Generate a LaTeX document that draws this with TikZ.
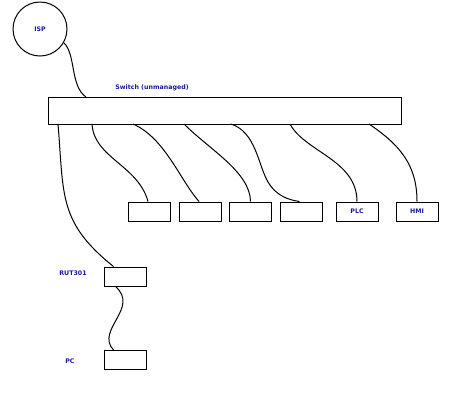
\documentclass[tikz,border=0pt]{standalone}
\usepackage{fontspec}
\setmainfont{DejaVu Sans}
\definecolor{lbl}{RGB}{25,25,160}
\begin{document}
\begin{tikzpicture}[x=1bp,y=-1bp,
  box/.style={draw,line width=1bp,minimum width=42bp,minimum height=19bp,inner sep=0pt,
    font=\fontsize{6.3}{7}\selectfont\bfseries,text=lbl},
  lab/.style={font=\fontsize{6.3}{7}\selectfont\bfseries,text=lbl,inner sep=0pt},
  cable/.style={line width=1bp}]
\useasboundingbox[fill=white] (0,0) rectangle (460,400);
\node[draw,circle,line width=1bp,minimum size=54bp,inner sep=0pt,lab] (isp) at (40,29) {ISP};
\node[draw,line width=1bp,minimum width=352bp,minimum height=27bp,inner sep=0pt] (sw) at (225,110.5) {};
\node[lab] (swl) at (152,88) {Switch (unmanaged)};
\node[box] (b1) at (149,211.5) {};
\node[box] (b2) at (200,211.5) {};
\node[box] (b3) at (250.5,211.5) {};
\node[box] (b4) at (301.5,211.5) {};
\node[box] (plc) at (357,211.5) {PLC};
\node[box] (hmi) at (417,211.5) {HMI};
\node[box] (rut) at (125.5,276.5) {};
\node[box] (pc) at (125.5,360) {};
\node[lab] (rutl) at (73,273) {RUT301};
\node[lab] (pcl) at (70,361) {PC};
% switch ports
\coordinate (tp) at (86,97);
\coordinate (p1) at (58,124);
\coordinate (p2) at (92,124);
\coordinate (p3) at (133,124);
\coordinate (p4) at (184,124);
\coordinate (p5) at (231,124);
\coordinate (p6) at (290,124);
\coordinate (p7) at (369,124);
\draw[cable] (isp.-30) .. controls (76,54) and (70,86) .. (tp);
\draw[cable] (p1) .. controls (64,195) and (58,222) .. ([xshift=-12bp]rut.north);
\draw[cable] (p2) .. controls (94,158) and (138,165) .. ([xshift=-1bp]b1.north);
\draw[cable] (p3) .. controls (165,138) and (180,180) .. ([xshift=-1bp]b2.north);
\draw[cable] (p4) .. controls (210,150) and (250,172) .. (b3.north);
\draw[cable] (p5) .. controls (256,132) and (258,165) .. (268,182) .. controls (277,197) and (290,200) .. ([xshift=-2bp]b4.north);
\draw[cable] (p6) .. controls (305,152) and (357,160) .. (plc.north);
\draw[cable] (p7) .. controls (400,145) and (417,165) .. (hmi.north);
\draw[cable] ([xshift=-10bp]rut.south) .. controls (140,308) and (95,330) .. ([xshift=-12bp]pc.north);
\end{tikzpicture}
\end{document}
